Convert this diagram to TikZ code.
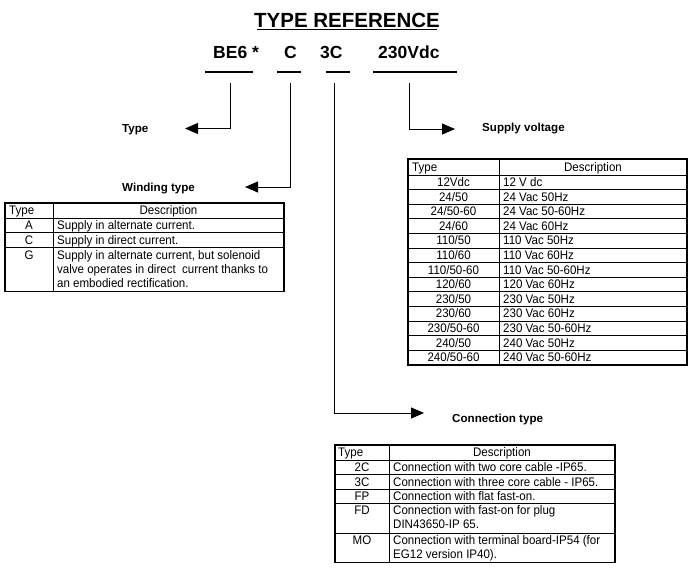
\documentclass[tikz,border=0pt]{standalone}
\usepackage{fontspec}
\setmainfont{Liberation Sans}
\newfontfamily\tabfam[FakeStretch=0.93]{Liberation Sans}
\usetikzlibrary{arrows.meta}
\newcommand{\tabfont}{\tabfam\fontsize{12.4}{14}\selectfont}
\newcommand{\lblfont}{\fontsize{11.6}{14}\selectfont\bfseries}
\newcommand{\codefont}{\fontsize{17.5}{20}\selectfont\bfseries}
\newcommand{\ttlfont}{\fontsize{20.5}{24}\selectfont\bfseries}
\tikzset{
  cell/.style={font=\tabfont, inner sep=0pt, anchor=base},
  celll/.style={cell, anchor=base west, align=left},
  lbl/.style={font=\lblfont, inner sep=0pt, anchor=base west},
  codetxt/.style={font=\codefont, inner sep=0pt, anchor=base west},
  conn/.style={line width=0.9pt, -{Triangle[length=13pt,width=11pt]}},
  outerline/.style={line width=1.4pt},
  innerline/.style={line width=0.8pt},
  uline/.style={line width=2.7pt},
}
\begin{document}
\begin{tikzpicture}[x=1pt,y=-1pt]
\useasboundingbox[fill=white] (0,0) rectangle (690,584);

% Title
\node[font=\ttlfont, inner sep=0pt, anchor=base] (title) at (347,27) {TYPE REFERENCE};
\draw[line width=1.6pt] (257,29.5) -- (437,29.5);

% Codes
\node[codetxt] (be6) at (213,58) {BE6 *};
\node[codetxt] (cc) at (284,58) {C};
\node[codetxt] (c3c) at (320,58) {3C};
\node[codetxt] (vdc) at (378,58) {230Vdc};
\draw[uline] (205,72) -- (253,72);
\draw[uline] (277,72) -- (301,72);
\draw[uline] (326,72) -- (350,72);
\draw[uline] (373,72) -- (457,72);

% connector start points
\coordinate (be6s) at (230,83);
\coordinate (ccs) at (290,83);
\coordinate (c3cs) at (334,83);
\coordinate (vdcs) at (409,83);
% arrow tips
\coordinate (typetip) at (185,128.5);
\coordinate (windtip) at (245,187);
\coordinate (supptip) at (455,129);
\coordinate (conntip) at (424,413);

% labels
\node[lbl] (typel) at (122,132) {Type};
\node[lbl] (windl) at (122,191) {Winding type};
\node[lbl] (suppl) at (482,131.5) {Supply voltage};
\node[lbl] (connl) at (452,422) {Connection type};

\draw[conn] (be6s) |- (typetip);
\draw[conn] (ccs) |- (windtip);
\draw[conn] (vdcs) |- (supptip);
\draw[conn] (c3cs) |- (conntip);

% ---------- Winding table ----------
\draw[innerline] (5,218) -- (284,218);
\draw[innerline] (5,232.6) -- (284,232.6);
\draw[innerline] (5,247.2) -- (284,247.2);
\draw[innerline] (53,203) -- (53,291.7);
\draw[outerline] (5,203) rectangle (284,291.7);
\node[celll] (wht) at (9,214.6) {Type};
\node[cell] (whd) at (168.5,214.6) {Description};
\node[cell] (wat) at (29,229.4) {A};
\node[celll] (wad) at (57,229.4) {Supply in alternate current.};
\node[cell] (wct) at (29,244) {C};
\node[celll] (wcd) at (57,244) {Supply in direct current.};
\node[cell] (wgt) at (29,259.3) {G};
\node[celll] (wgd1) at (57,259.3) {Supply in alternate current, but solenoid};
\node[celll] (wgd2) at (57,273.3) {valve operates in direct\ \ current thanks to};
\node[celll] (wgd3) at (57,287.3) {an embodied rectification.};

% ---------- Supply table ----------
\draw[innerline] (408,175) -- (687,175);
\foreach \k in {1,...,12} {
  \draw[innerline] (408,{175+14.6*\k}) -- (687,{175+14.6*\k});
}
\draw[innerline] (499,159) -- (499,364.8);
\draw[outerline] (408,159) rectangle (687,364.8);
\node[celll] (sht) at (412,171.1) {Type};
\node[cell] (shd) at (593,171.1) {Description};
\node[cell] (s1t) at (453.5,186.4) {12Vdc};     \node[celll] (s1d) at (503,186.4) {12 V dc};
\node[cell] (s2t) at (453.5,201.0) {24/50};     \node[celll] (s2d) at (503,201.0) {24 Vac 50Hz};
\node[cell] (s3t) at (453.5,215.6) {24/50-60};  \node[celll] (s3d) at (503,215.6) {24 Vac 50-60Hz};
\node[cell] (s4t) at (453.5,230.2) {24/60};     \node[celll] (s4d) at (503,230.2) {24 Vac 60Hz};
\node[cell] (s5t) at (453.5,244.8) {110/50};    \node[celll] (s5d) at (503,244.8) {110 Vac 50Hz};
\node[cell] (s6t) at (453.5,259.4) {110/60};    \node[celll] (s6d) at (503,259.4) {110 Vac 60Hz};
\node[cell] (s7t) at (453.5,274.0) {110/50-60}; \node[celll] (s7d) at (503,274.0) {110 Vac 50-60Hz};
\node[cell] (s8t) at (453.5,288.6) {120/60};    \node[celll] (s8d) at (503,288.6) {120 Vac 60Hz};
\node[cell] (s9t) at (453.5,303.2) {230/50};    \node[celll] (s9d) at (503,303.2) {230 Vac 50Hz};
\node[cell] (s10t) at (453.5,317.8) {230/60};   \node[celll] (s10d) at (503,317.8) {230 Vac 60Hz};
\node[cell] (s11t) at (453.5,332.4) {230/50-60};\node[celll] (s11d) at (503,332.4) {230 Vac 50-60Hz};
\node[cell] (s12t) at (453.5,347.0) {240/50};   \node[celll] (s12d) at (503,347.0) {240 Vac 50Hz};
\node[cell] (s13t) at (453.5,361.6) {240/50-60};\node[celll] (s13d) at (503,361.6) {240 Vac 50-60Hz};

% ---------- Connection table ----------
\draw[innerline] (335,460) -- (615,460);
\draw[innerline] (335,474.6) -- (615,474.6);
\draw[innerline] (335,489.2) -- (615,489.2);
\draw[innerline] (335,503.8) -- (615,503.8);
\draw[innerline] (335,533) -- (615,533);
\draw[innerline] (389,445) -- (389,562.2);
\draw[outerline] (335,445) rectangle (615,562.2);
\node[celll] (cht) at (338,456.6) {Type};
\node[cell] (chd) at (502,456.6) {Description};
\node[cell] (k1t) at (362,471.4) {2C};  \node[celll] (k1d) at (393,471.4) {Connection with two core cable -IP65.};
\node[cell] (k2t) at (362,486.0) {3C};  \node[celll] (k2d) at (393,486.0) {Connection with three core cable - IP65.};
\node[cell] (k3t) at (362,500.6) {FP};  \node[celll] (k3d) at (393,500.6) {Connection with flat fast-on.};
\node[cell] (k4t) at (362,514.9) {FD};  \node[celll] (k4d) at (393,514.9) {Connection with fast-on for plug};
\node[celll] (k4d2) at (393,528.9) {DIN43650-IP 65.};
\node[cell] (k5t) at (362,544.1) {MO};  \node[celll] (k5d) at (393,544.1) {Connection with terminal board-IP54 (for};
\node[celll] (k5d2) at (393,558.1) {EG12 version IP40).};
\end{tikzpicture}
\end{document}
